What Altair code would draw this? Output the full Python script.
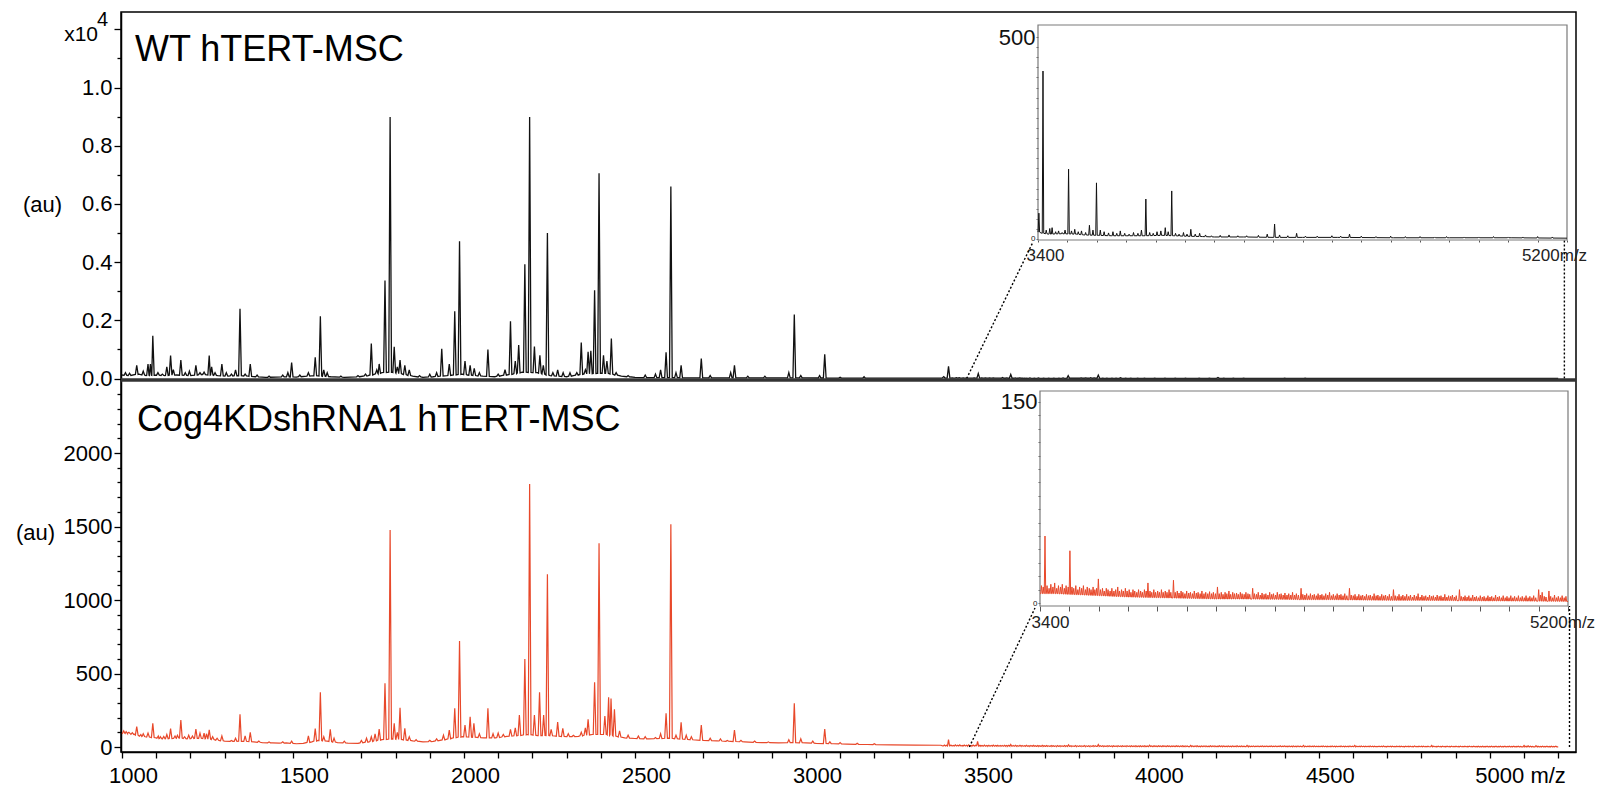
import altair as alt
import numpy as np
import pandas as pd

FONT = "Liberation Sans"
W, H = 1455, 740
MZ_DOMAIN = [997, 5252]
TOP_Y_DOMAIN = [-0.012, 1.2595]
TOP_Y_RANGE = [370, 0]
BOT_Y_DOMAIN = [-34, 2483]
BOT_Y_RANGE = [740, 370]
INSET_MZ = [3400, 5200]
TOP_INSET_X_RANGE = [917, 1446]
TOP_INSET_Y_RANGE = [228, 13]
TOP_INSET_Y_DOMAIN = [-2.5, 530]
BOT_INSET_X_RANGE = [919, 1447]
BOT_INSET_Y_RANGE = [594, 379]
BOT_INSET_Y_DOMAIN = [-2.2, 158.2]

X_TICKS = list(range(1000, 5201, 100))
TOP_Y_TICKS = [0.0, 0.1, 0.2, 0.3, 0.4, 0.5, 0.6, 0.7, 0.8, 0.9, 1.0, 1.1, 1.2]
BOT_Y_TICKS = list(range(0, 2401, 100))
TOP_INSET_Y_TICKS = list(range(0, 501, 25))
BOT_INSET_Y_TICKS = list(range(0, 151, 10))
INSET_X_TICKS = list(range(3400, 5201, 100))

BLACK = "#111111"
RED = "#E8482A"

# ---------------- WT hTERT-MSC (x10^4 au) ----------------
WT_BASE = [(1000, 0.012), (1020, 0.01), (1050, 0.015), (1070, 0.01), (1100, 0.012), (1125, 0.01),
           (1160, 0.012), (1200, 0.01), (1235, 0.014), (1280, 0.01), (1310, 0.008), (1340, 0.01),
           (1370, 0.008), (1390, 0.006), (1420, 0.004), (1450, 0.005), (1480, 0.006), (1510, 0.005),
           (1540, 0.008), (1560, 0.01), (1610, 0.006), (1650, 0.004), (1695, 0.006), (1720, 0.01),
           (1760, 0.02), (1790, 0.022), (1820, 0.015), (1850, 0.008), (1880, 0.004), (1910, 0.006),
           (1950, 0.01), (1995, 0.015), (2010, 0.012), (2055, 0.008), (2090, 0.006), (2110, 0.01),
           (2143, 0.015), (2170, 0.022), (2200, 0.02), (2215, 0.02), (2252, 0.01), (2300, 0.006),
           (2320, 0.01), (2350, 0.015), (2390, 0.018), (2420, 0.018), (2460, 0.008), (2500, 0.004),
           (2540, 0.003), (2600, 0.003), (2700, 0.002), (2800, 0.002), (3000, 0.002), (3200, 0.001),
           (3395, 0.001)]
WT_PEAKS = [(1010, 0.02), (1022, 0.018), (1043, 0.045), (1062, 0.025), (1076, 0.05), (1083, 0.05),
            (1090, 0.147), (1105, 0.02), (1118, 0.015), (1131, 0.04), (1142, 0.079), (1150, 0.03),
            (1172, 0.063), (1185, 0.02), (1197, 0.025), (1216, 0.045), (1228, 0.02), (1240, 0.022),
            (1255, 0.079), (1262, 0.04), (1272, 0.02), (1292, 0.05), (1305, 0.02), (1320, 0.015),
            (1332, 0.03), (1345, 0.24), (1360, 0.015), (1375, 0.05), (1395, 0.012), (1430, 0.008),
            (1470, 0.012), (1485, 0.02), (1496, 0.055), (1520, 0.012), (1545, 0.02), (1565, 0.073),
            (1580, 0.214), (1590, 0.03), (1600, 0.02), (1640, 0.008), (1690, 0.01), (1712, 0.015),
            (1729, 0.12), (1745, 0.03), (1752, 0.05), (1769, 0.337), (1784, 0.899), (1796, 0.109),
            (1805, 0.04), (1813, 0.063), (1827, 0.045), (1840, 0.03), (1870, 0.01), (1900, 0.015),
            (1920, 0.02), (1935, 0.102), (1957, 0.05), (1973, 0.231), (1987, 0.472), (2003, 0.06),
            (2018, 0.045), (2030, 0.035), (2045, 0.02), (2070, 0.1), (2100, 0.015), (2120, 0.03),
            (2136, 0.197), (2150, 0.06), (2160, 0.115), (2178, 0.393), (2192, 0.899), (2206, 0.11),
            (2222, 0.08), (2232, 0.045), (2244, 0.5), (2260, 0.02), (2274, 0.03), (2290, 0.02),
            (2310, 0.02), (2330, 0.02), (2343, 0.124), (2355, 0.03), (2363, 0.092), (2371, 0.095),
            (2382, 0.303), (2395, 0.705), (2408, 0.08), (2418, 0.06), (2431, 0.137), (2445, 0.02),
            (2480, 0.01), (2530, 0.012), (2560, 0.015), (2575, 0.03), (2591, 0.09), (2605, 0.66),
            (2620, 0.02), (2635, 0.045), (2694, 0.069), (2720, 0.01), (2780, 0.02), (2791, 0.045),
            (2830, 0.008), (2880, 0.008), (2950, 0.02), (2966, 0.22), (2985, 0.01), (3040, 0.01),
            (3055, 0.083), (3100, 0.004), (3170, 0.006)]

# WT high-mass region (au), shown in the inset and in the main panel
WT_HI_BASE = [(3400, 18), (3410, 15), (3436, 12), (3480, 13), (3532, 12), (3556, 10), (3605, 9),
              (3650, 8), (3700, 8), (3760, 8), (3825, 9), (3862, 8), (3900, 7), (3960, 6), (4000, 5),
              (4100, 5), (4200, 4), (4300, 4), (4420, 4), (4610, 3), (4800, 3), (5010, 3), (5200, 2)]
WT_HI_PEAKS = [(3403, 64), (3417, 416), (3428, 22), (3440, 26), (3448, 28), (3460, 18), (3470, 20),
               (3482, 16), (3492, 22), (3504, 173), (3514, 20), (3525, 24), (3537, 18), (3548, 20),
               (3562, 16), (3575, 34), (3587, 22), (3599, 139), (3612, 22), (3625, 18), (3640, 15),
               (3655, 18), (3668, 14), (3680, 20), (3695, 14), (3710, 12), (3725, 16), (3740, 14),
               (3752, 22), (3767, 99), (3780, 16), (3792, 14), (3805, 18), (3818, 20), (3833, 28),
               (3843, 18), (3855, 119), (3868, 14), (3880, 12), (3895, 16), (3907, 12), (3920, 24),
               (3935, 12), (3950, 14), (3970, 10), (3990, 8), (4020, 9), (4050, 10), (4080, 8),
               (4110, 8), (4150, 9), (4180, 12), (4205, 37), (4222, 10), (4250, 8), (4280, 14),
               (4310, 7), (4350, 7), (4400, 8), (4430, 7), (4460, 12), (4500, 7), (4550, 6),
               (4600, 7), (4650, 6), (4700, 6), (4750, 5), (4790, 6), (4850, 5), (4900, 5),
               (4950, 6), (5000, 5), (5050, 5), (5100, 6), (5150, 5)]

# ---------------- Cog4KDshRNA1 hTERT-MSC (au) ----------------
KD_BASE = [(1000, 90), (1016, 95), (1026, 85), (1035, 88), (1050, 75), (1068, 70), (1085, 65),
           (1100, 62), (1117, 55), (1150, 58), (1166, 62), (1190, 55), (1210, 58), (1223, 60),
           (1250, 55), (1283, 45), (1300, 40), (1325, 38), (1350, 40), (1385, 35), (1410, 30),
           (1440, 28), (1460, 26), (1480, 28), (1510, 22), (1530, 25), (1555, 35), (1573, 45),
           (1600, 40), (1630, 30), (1660, 27), (1690, 25), (1722, 35), (1760, 50), (1790, 55),
           (1820, 50), (1850, 42), (1880, 35), (1910, 38), (1946, 50), (1965, 60), (1995, 70),
           (2010, 68), (2038, 65), (2058, 62), (2093, 62), (2110, 68), (2125, 72), (2143, 75),
           (2170, 80), (2185, 85), (2200, 82), (2214, 78), (2240, 78), (2265, 75), (2282, 72),
           (2300, 70), (2335, 72), (2348, 78), (2375, 85), (2403, 85), (2418, 85), (2450, 70),
           (2470, 62), (2500, 58), (2540, 55), (2582, 58), (2598, 60), (2627, 55), (2660, 50),
           (2700, 45), (2740, 42), (2780, 38), (2820, 35), (2870, 30), (2920, 28), (2960, 30),
           (3000, 28), (3030, 25), (3080, 22), (3120, 20), (3180, 17), (3250, 15), (3320, 13),
           (3395, 12)]
KD_PEAKS = [(1005, 110), (1012, 105), (1020, 100), (1030, 98), (1043, 138), (1055, 85), (1062, 90),
            (1076, 95), (1090, 161), (1106, 75), (1112, 70), (1122, 72), (1131, 85), (1142, 125),
            (1155, 75), (1162, 80), (1172, 184), (1183, 70), (1195, 80), (1206, 75), (1216, 122),
            (1228, 95), (1240, 95), (1247, 90), (1255, 116), (1265, 70), (1278, 60), (1292, 75),
            (1320, 45), (1332, 60), (1345, 222), (1360, 75), (1375, 100), (1400, 40), (1430, 35),
            (1470, 35), (1496, 40), (1545, 75), (1565, 125), (1580, 372), (1590, 70), (1609, 120),
            (1620, 60), (1650, 40), (1700, 45), (1715, 60), (1729, 70), (1740, 90), (1752, 122),
            (1769, 433), (1784, 1476), (1796, 161), (1805, 100), (1813, 267), (1827, 127),
            (1840, 70), (1860, 50), (1900, 45), (1920, 55), (1940, 80), (1957, 115), (1973, 263),
            (1987, 721), (2003, 150), (2018, 206), (2029, 161), (2045, 90), (2070, 263), (2085, 90),
            (2100, 95), (2115, 85), (2136, 120), (2150, 130), (2162, 218), (2178, 599), (2192, 1789),
            (2206, 218), (2221, 372), (2233, 218), (2244, 1175), (2255, 120), (2274, 170),
            (2289, 127), (2305, 90), (2320, 80), (2343, 100), (2355, 130), (2363, 188), (2382, 440),
            (2395, 1386), (2412, 211), (2423, 338), (2430, 330), (2440, 256), (2455, 110),
            (2480, 80), (2510, 75), (2530, 70), (2560, 65), (2575, 90), (2591, 229), (2605, 1515),
            (2620, 80), (2635, 168), (2650, 80), (2665, 70), (2694, 150), (2720, 60), (2750, 55),
            (2770, 45), (2791, 116), (2810, 45), (2850, 40), (2890, 35), (2950, 50), (2966, 297),
            (2985, 55), (3020, 40), (3055, 122), (3070, 35), (3100, 30), (3150, 25), (3200, 22)]

KD_HI_BASE = [(3400, 7), (3450, 7), (3500, 6.5), (3548, 6), (3604, 5.5), (3650, 5), (3702, 4.5),
              (3800, 4), (3907, 3.5), (4000, 3), (4100, 3), (4207, 2.8), (4300, 2.5), (4400, 2.5),
              (4507, 2.2), (4611, 2), (4700, 2), (4808, 1.8), (4900, 1.6), (5002, 1.5), (5104, 1.4),
              (5200, 1.2)]
KD_HI_PEAKS = [
    (3405, 13), (3411, 12), (3417, 50), (3424, 13), (3431, 11), (3437, 14), (3444, 12), (3450, 15),
    (3457, 11), (3463, 13), (3470, 12), (3476, 14), (3483, 11), (3489, 13), (3496, 12), (3502, 39),
    (3509, 12), (3515, 11), (3522, 13), (3529, 10), (3535, 12), (3542, 11), (3548, 13), (3555, 10),
    (3561, 12), (3568, 11), (3574, 10), (3581, 12), (3587, 10), (3593, 11), (3599, 18), (3606, 10),
    (3613, 11), (3619, 9), (3626, 11), (3632, 10), (3639, 9), (3645, 11), (3652, 9), (3658, 10),
    (3665, 12), (3671, 9), (3678, 10), (3684, 9), (3691, 11), (3697, 9), (3704, 10), (3710, 8),
    (3717, 10), (3723, 9), (3730, 8), (3736, 10), (3743, 9), (3749, 8), (3756, 10), (3762, 9),
    (3768, 15), (3775, 9), (3781, 8), (3788, 10), (3794, 8), (3801, 9), (3807, 8), (3814, 10),
    (3820, 8), (3827, 9), (3833, 8), (3840, 10), (3846, 8), (3855, 17), (3861, 8), (3868, 9),
    (3874, 7.5), (3881, 9), (3887, 8), (3894, 7), (3900, 9), (3907, 7.5), (3913, 8), (3920, 7),
    (3926, 9), (3933, 7.5), (3939, 8), (3946, 7), (3952, 9), (3959, 7), (3965, 8), (3972, 7),
    (3978, 8.5), (3985, 7), (3991, 8), (3998, 7), (4005, 12), (4011, 7), (4018, 8), (4024, 6.5),
    (4031, 8), (4037, 7), (4044, 9), (4050, 6.5), (4057, 8), (4063, 7), (4070, 7.5), (4076, 6.5),
    (4083, 8), (4089, 7), (4096, 6.5), (4102, 8), (4109, 7), (4115, 6.5), (4125, 11), (4131, 7),
    (4138, 6.5), (4144, 8), (4151, 6), (4157, 7.5), (4164, 6.5), (4170, 7), (4177, 6), (4183, 8),
    (4190, 6.5), (4196, 7), (4203, 6), (4209, 8), (4216, 6.5), (4222, 7), (4229, 6), (4235, 7.5),
    (4242, 6), (4248, 7), (4255, 6), (4261, 8), (4268, 6), (4274, 7), (4281, 6), (4290, 11),
    (4296, 6.5), (4303, 6), (4309, 7), (4316, 5.5), (4322, 7), (4329, 6), (4335, 6.5), (4342, 5.5),
    (4348, 7), (4355, 6), (4361, 6.5), (4368, 5.5), (4374, 7), (4381, 6), (4387, 8), (4394, 5.5),
    (4400, 6.5), (4407, 5.5), (4413, 7), (4420, 6), (4426, 6.5), (4433, 5.5), (4439, 7), (4446, 5.5),
    (4455, 11), (4461, 6), (4468, 5.5), (4474, 6.5), (4481, 5), (4487, 6.5), (4494, 5.5), (4500, 6),
    (4507, 5), (4513, 6.5), (4520, 5.5), (4526, 6), (4533, 5), (4539, 7), (4546, 5.5), (4552, 6),
    (4559, 5), (4565, 6.5), (4572, 5.5), (4578, 6), (4585, 5), (4591, 6.5), (4598, 5), (4605, 10),
    (4611, 5.5), (4618, 5), (4624, 6.5), (4631, 5), (4637, 6), (4644, 5), (4650, 6.5), (4657, 5),
    (4663, 6), (4670, 4.5), (4676, 6), (4683, 5), (4689, 7), (4696, 4.5), (4702, 6), (4709, 5),
    (4715, 5.5), (4722, 4.5), (4728, 6), (4735, 5), (4741, 5.5), (4748, 4.5), (4754, 6), (4761, 5),
    (4767, 5.5), (4774, 4.5), (4780, 6.5), (4787, 4.5), (4793, 5.5), (4800, 5), (4806, 6),
    (4813, 4.5), (4819, 5.5), (4830, 10), (4836, 5), (4843, 4.5), (4849, 5.5), (4856, 4.5),
    (4862, 5.5), (4869, 4), (4875, 6), (4882, 4.5), (4888, 5), (4895, 4), (4901, 5.5), (4908, 4.5),
    (4914, 5), (4921, 4), (4927, 5.5), (4934, 4.5), (4940, 5), (4947, 4), (4953, 6), (4960, 4.5),
    (4966, 5), (4973, 4), (4979, 5.5), (4986, 4), (4992, 5), (4999, 4), (5005, 5.5), (5012, 4),
    (5018, 5), (5025, 4), (5031, 5.5), (5038, 4), (5044, 5), (5051, 4), (5057, 5.5), (5064, 4),
    (5070, 5), (5077, 4), (5083, 5.5), (5090, 4), (5100, 10), (5106, 6), (5112, 8), (5119, 5),
    (5125, 4.5), (5135, 9), (5141, 5), (5148, 4), (5154, 6), (5161, 4), (5167, 5), (5174, 4),
    (5180, 5.5), (5187, 4), (5193, 5)]


def spectrum(base, peaks, half, scale=1.0):
    bm = np.array([b[0] for b in base], float)
    bv = np.array([b[1] for b in base], float)
    pm = np.array([p[0] for p in peaks], float)
    xs, ys = [], []
    for m, v in zip(bm, bv):
        if np.all(np.abs(pm - m) > half):
            xs.append(m)
            ys.append(v)
    for m, h in peaks:
        b = float(np.interp(m, bm, bv))
        xs += [m - half, m, m + half]
        ys += [b, h, b]
    df = pd.DataFrame({"mz": xs, "intensity": np.array(ys) * scale})
    return df.sort_values("mz").reset_index(drop=True)


wt_main = pd.concat([spectrum(WT_BASE, WT_PEAKS, 4),
                     spectrum(WT_HI_BASE, WT_HI_PEAKS, 4, scale=1e-4)], ignore_index=True)
kd_main = pd.concat([spectrum(KD_BASE, KD_PEAKS, 4),
                     spectrum(KD_HI_BASE, KD_HI_PEAKS, 3)], ignore_index=True)
wt_inset = spectrum(WT_HI_BASE, WT_HI_PEAKS, 2.5)
kd_inset = spectrum(KD_HI_BASE, KD_HI_PEAKS, 2.5)


def cond(test, yes, no):
    return {"condition": {"test": test, "value": yes}, "value": no}


# ---------------- encodings ----------------
main_x_scale = alt.Scale(domain=MZ_DOMAIN, nice=False, zero=False)
top_x = alt.X("mz:Q", scale=main_x_scale, axis=None)
bot_x = alt.X("mz:Q", scale=main_x_scale, axis=alt.Axis(
    orient="bottom", values=X_TICKS, format="d",
    labelExpr="datum.value % 500 == 0 ? (datum.value == 5000 ? '5000 m/z' : datum.label) : ''",
    labelAlign=cond("datum.value == 5000", "left", "center"),
    labelOffset=cond("datum.value == 5000", -15, 11),
    tickSize=6, labelPadding=7, labelFontSize=22, labelFlush=False, labelOverlap=False,
    domainWidth=1.5, tickWidth=1.3, title=None))

top_y = alt.Y("intensity:Q",
              scale=alt.Scale(domain=TOP_Y_DOMAIN, range=TOP_Y_RANGE, nice=False, zero=False),
              axis=alt.Axis(orient="left", values=TOP_Y_TICKS, format=".1f",
                            labelExpr="round(datum.value*10) % 2 == 0 && datum.value < 1.1 ? datum.label : ''",
                            tickSize=cond("round(datum.value*10) % 2 == 0", 7, 4),
                            labelPadding=2, labelFontSize=22, labelFlush=False, labelOverlap=False,
                            labelBaseline="middle", domainWidth=1.5, tickWidth=1.3, title=None))
bot_y = alt.Y("intensity:Q",
              scale=alt.Scale(domain=BOT_Y_DOMAIN, range=BOT_Y_RANGE, nice=False, zero=False),
              axis=alt.Axis(orient="left", values=BOT_Y_TICKS, format="d",
                            labelExpr="datum.value % 500 == 0 ? datum.label : ''",
                            tickSize=cond("datum.value % 500 == 0", 7, 4),
                            labelPadding=2, labelFontSize=22, labelFlush=False, labelOverlap=False,
                            labelBaseline="middle", domainWidth=1.5, tickWidth=1.3, title=None))


def inset_x(rng, offset, tick, off_left, off_right, pad):
    return alt.X("mz:Q", scale=alt.Scale(domain=INSET_MZ, range=rng, nice=False, zero=False),
                 axis=alt.Axis(orient="bottom", offset=offset, values=INSET_X_TICKS, format="d",
                               labelExpr="datum.value == 3400 ? '3400' : (datum.value == 5200 ? '5200m/z' : '')",
                               labelOffset=cond("datum.value == 3400", off_left, off_right),
                               tickSize=tick, tickColor="#555", tickWidth=1, domain=False,
                               labelFontSize=17, labelColor="#222", labelPadding=pad,
                               labelFlush=False, labelOverlap=False, title=None))


def inset_y(dom, rng, offset, ticks, top_val):
    return alt.Y("intensity:Q", scale=alt.Scale(domain=dom, range=rng, nice=False, zero=False),
                 axis=alt.Axis(orient="left", offset=offset, values=ticks, format="d",
                               labelExpr=f"datum.value == {top_val} || datum.value == 0 ? datum.label : ''",
                               labelFontSize=cond("datum.value == 0", 8, 22),
                               tickSize=2, tickColor="#666", tickWidth=1, domain=False,
                               labelPadding=1, labelBaseline="middle", labelColor="#111",
                               labelFlush=False, labelOverlap=False, title=None))


top_ix = inset_x(TOP_INSET_X_RANGE, TOP_INSET_Y_RANGE[0] - H, 2, 7, -13, 5)
top_iy = inset_y(TOP_INSET_Y_DOMAIN, TOP_INSET_Y_RANGE, -TOP_INSET_X_RANGE[0], TOP_INSET_Y_TICKS, 500)
bot_ix = inset_x(BOT_INSET_X_RANGE, BOT_INSET_Y_RANGE[0] - H, 5, 10, -6, 3)
bot_iy = inset_y(BOT_INSET_Y_DOMAIN, BOT_INSET_Y_RANGE, -BOT_INSET_X_RANGE[0], BOT_INSET_Y_TICKS, 150)

dotted = dict(strokeDash=[2, 2], color="black", strokeWidth=1.4)

# ---------------- top panel ----------------
top_line = alt.Chart(wt_main).mark_line(color=BLACK, strokeWidth=1.3, clip=True).encode(x=top_x, y=top_y)
top_conn_a = alt.Chart(pd.DataFrame({"mz": [3470], "intensity": [0.0]})).mark_rule(**dotted).encode(
    x=top_x, y=top_y, x2=alt.value(912), y2=alt.value(230))
top_conn_b = alt.Chart(pd.DataFrame({"mz": [5218], "intensity": [0.0]})).mark_rule(**dotted).encode(
    x=top_x, y=top_y, y2=alt.value(TOP_INSET_Y_RANGE[0]))
top_group = alt.layer(top_line, top_conn_a, top_conn_b)

# ---------------- bottom panel ----------------
bot_line = alt.Chart(kd_main).mark_line(color=RED, strokeWidth=1.2, clip=True).encode(x=bot_x, y=bot_y)
bot_conn_a = alt.Chart(pd.DataFrame({"mz": [3478], "intensity": [0.0]})).mark_rule(**dotted).encode(
    x=bot_x, y=bot_y, x2=alt.value(914), y2=alt.value(596))
bot_conn_b = alt.Chart(pd.DataFrame({"mz": [5233], "intensity": [0.0]})).mark_rule(**dotted).encode(
    x=bot_x, y=bot_y, y2=alt.value(BOT_INSET_Y_RANGE[0]))
bot_group = alt.layer(bot_line, bot_conn_a, bot_conn_b)


# ---------------- insets ----------------
def frame(dom):
    return pd.DataFrame({"mz": [INSET_MZ[0]], "mz2": [INSET_MZ[1]],
                         "intensity": [dom[0]], "intensity2": [dom[1]]})


top_inset = alt.layer(
    alt.Chart(frame(TOP_INSET_Y_DOMAIN)).mark_rect(filled=False, stroke="#7a7a7a", strokeWidth=1.2).encode(
        x=top_ix, x2="mz2:Q", y=top_iy, y2="intensity2:Q"),
    alt.Chart(wt_inset).mark_line(color=BLACK, strokeWidth=1.0).encode(x=top_ix, y=top_iy),
)
bot_inset = alt.layer(
    alt.Chart(frame(BOT_INSET_Y_DOMAIN)).mark_rect(filled=False, stroke="#7a7a7a", strokeWidth=1.2).encode(
        x=bot_ix, x2="mz2:Q", y=bot_iy, y2="intensity2:Q"),
    alt.Chart(kd_inset).mark_line(color=RED, strokeWidth=1.0).encode(x=bot_ix, y=bot_iy),
)

# ---------------- separator & text ----------------
one = pd.DataFrame({"a": [0]})
separator = alt.Chart(one).mark_rule(color="#333333", strokeWidth=3.4).encode(
    x=alt.value(0), x2=alt.value(W), y=alt.value(368))


def label(text, x, y, size, align="left", baseline="alphabetic"):
    return alt.Chart(pd.DataFrame({"t": [text]})).mark_text(
        font=FONT, fontSize=size, align=align, baseline=baseline, color="black").encode(
        text="t:N", x=alt.value(x), y=alt.value(y))


texts = [
    label("WT hTERT-MSC", 14, 49, 36),
    label("Cog4KDshRNA1 hTERT-MSC", 16, 419, 36),
    label("(au)", -59, 193, 22, align="right", baseline="middle"),
    label("(au)", -66, 521, 22, align="right", baseline="middle"),
    label("x10", -23, 23, 21, align="right", baseline="middle"),
    label("4", -24, 8, 20, align="left", baseline="middle"),
]

chart = alt.layer(top_group, bot_group, top_inset, bot_inset, separator, *texts).resolve_scale(
    x="independent", y="independent"
).properties(
    width=W, height=H,
    padding={"left": 121, "top": 12, "right": 22, "bottom": 35},
    autosize=alt.AutoSizeParams(type="none"),
    background="white",
).configure_view(
    stroke="black", strokeWidth=1.5
).configure_axis(
    grid=False, labelFont=FONT, labelColor="black", domainColor="black", tickColor="black"
)

chart.save("out.html", embed_options={"renderer": "svg", "actions": False})
